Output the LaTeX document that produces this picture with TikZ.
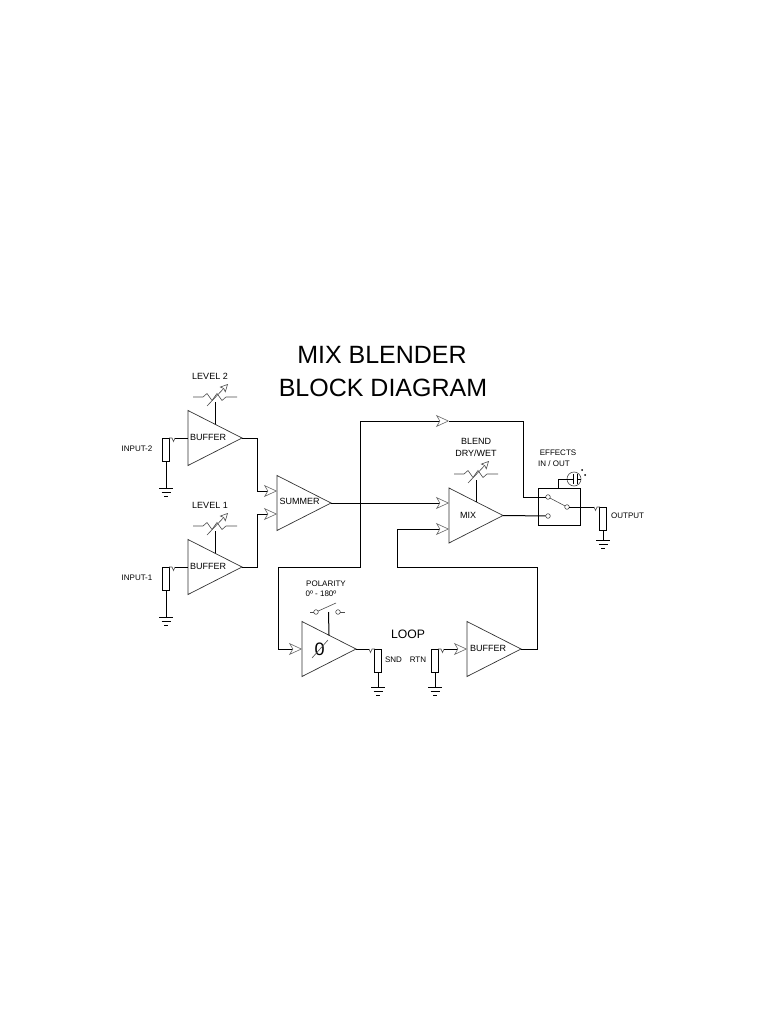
\documentclass[tikz,border=0pt]{standalone}
\usepackage{fontspec}
\setmainfont{Liberation Sans}
\usetikzlibrary{shapes.geometric,arrows.meta}
\tikzset{
    amp/.style={isosceles triangle, isosceles triangle stretches, draw=black!80, line width=0.7pt, minimum width=55pt, minimum height=54pt, inner sep=0pt, outer sep=0pt, anchor=apex},
    wire/.style={draw=black, line width=1pt},
    thin wire/.style={draw=black!70, line width=0.6pt},
    res/.style={rectangle, draw=black, line width=0.9pt, minimum width=6.5pt, minimum height=23pt, inner sep=0pt, outer sep=0pt, anchor=north},
    contact/.style={circle, draw=black!70, line width=0.6pt, minimum size=4.6pt, inner sep=0pt, outer sep=0pt},
    lab/.style={inner sep=0pt, font=\fontsize{8}{10}\selectfont, text=black},
    biglab/.style={inner sep=0pt, font=\fontsize{9}{11}\selectfont, text=black},
    intip/.style={-{Stealth[open, length=13pt, width=12pt, inset=3.5pt, color=black!60, line width=0.6pt]}},
    gndsym/.pic={
        \draw [line width=0.9pt, draw=black] (-7,0) -- (7,0);
        \draw [line width=0.8pt, draw=black] (-4.5,4) -- (4.5,4);
        \draw [line width=0.7pt, draw=black] (-2,8) -- (2,8);
    },
    potsym/.pic={
        \draw [thin wire] (-22,0) -- (-12,0) -- (-8,-3.5) -- (-3,3.5) -- (2,-3.5) -- (7,3.5) -- (11,0) -- (22,0);
        \draw [thin wire, -{Stealth[open, length=8pt, width=8pt, inset=1.5pt, line width=0.6pt]}] (-8,9) -- (13,-13);
    },
}
\begin{document}
\begin{tikzpicture}[x=1pt,y=-1pt]
    \useasboundingbox (0,0) rectangle (768,1024);
    \node [inner sep=0pt, font=\fontsize{25}{33}\selectfont, text=black] (title1) at (382,355) {MIX BLENDER};
    \node [inner sep=0pt, font=\fontsize{25}{33}\selectfont, text=black] (title2) at (383,388) {BLOCK DIAGRAM};

    \node [amp] (buf2) at (242,438) {};
    \node [amp] (buf1) at (242,567) {};
    \node [amp] (summer) at (331,503) {};
    \node [amp] (mix) at (503,515.5) {};
    \node [amp] (pol) at (356,649) {};
    \node [amp] (buf3) at (521,649) {};
    \node [biglab] (buf2txt) at (208,437) {BUFFER};
    \node [biglab] (buf1txt) at (208,566.5) {BUFFER};
    \node [biglab] (sumtxt) at (299.5,501.5) {SUMMER};
    \node [biglab] (mixtxt) at (468,515) {MIX};
    \node [biglab] (buf3txt) at (488,648.5) {BUFFER};
    \node [inner sep=0pt, font=\fontsize{18}{20}\selectfont, text=black] (zero) at (319.5,649.5) {0};
    \draw [thin wire] (312,658) -- (328,640);

    \foreach \name/\x/\y/\g/\s in {in2/166/438/488/1, in1/166/567/617/1, snd/378/649/687/-1, rtn/435/649/687/1, out/603/507/540/-1} {
        \node [res] (\name) at (\x,\y) {};
        \coordinate (\name gnd) at (\x,\g);
        \coordinate (\name tick) at ({\x+\s*9},\y);
        \draw [wire] (\name) -- (\name gnd);
        \pic at (\name gnd) {gndsym};
        \draw [thin wire] ({\x+\s*3.2},\y) -- ({\x+\s*6},\y) -- ({\x+\s*7.5},{\y+3.5}) -- (\name tick);
    }
    \node [lab] (in2txt) at (137,449) {INPUT-2};
    \node [lab] (in1txt) at (137,578) {INPUT-1};
    \node [lab] (sndtxt) at (393.5,660) {SND};
    \node [lab] (rtntxt) at (418,660) {RTN};
    \node [lab, anchor=west] (outtxt) at (611,516) {OUTPUT};
    \node [inner sep=0pt, font=\fontsize{12.2}{14}\selectfont, text=black] (looptxt) at (408,634) {LOOP};

    \pic at (215,397) {potsym};
    \pic at (215,526) {potsym};
    \pic at (476,474) {potsym};
    \coordinate (lev2) at (215,402);
    \coordinate (lev1) at (215,531);
    \coordinate (blend) at (476,480);
    \draw [wire] (lev2) -- (buf2.left side);
    \draw [wire] (lev1) -- (buf1.left side);
    \draw [wire] (blend) -- (mix.left side);
    \node [biglab] (lev2txt) at (210,376) {LEVEL 2};
    \node [biglab] (lev1txt) at (210,505) {LEVEL 1};
    \node [biglab] (blendtxt) at (476,441.5) {BLEND};
    \node [biglab] (drytxt) at (476,453.5) {DRY/WET};

    \coordinate (suma) at (277,491);
    \coordinate (sumb) at (277,514);
    \coordinate (mixa) at (449,503);
    \coordinate (mixb) at (449,529);
    \coordinate (polin) at (302,649);
    \coordinate (bufin) at (467,649);
    \coordinate (topmid) at (449,421);
    \coordinate (tee) at (360,503);

    \draw [wire] (in2tick) -- (buf2.lower side |- in2tick);
    \draw [wire] (in1tick) -- (buf1.lower side |- in1tick);
    \draw [wire, intip] (buf2.apex) -- (257,438) -- (257,491) -- (suma);
    \draw [wire, intip] (buf1.apex) -- (257,567) -- (257,514) -- (sumb);
    \draw [wire, intip] (summer.apex) -- (mixa);
    \draw [wire, intip] (tee) -- (360,421) -- (topmid);
    \draw [wire, intip] (tee) -- (360,567) -- (278,567) -- (278,649) -- (polin);
    \draw [wire] (pol.apex) -- (sndtick);
    \draw [wire, intip] (rtntick) -- (bufin);
    \draw [wire, intip] (buf3.apex) -- (537,649) -- (537,567) -- (397,567) -- (397,529) -- (mixb);

    \node [lab] (poltxt) at (326,583.5) {POLARITY};
    \node [lab] (degtxt) at (321,594) {0º - 180º};
    \node [contact] (pola) at (316,612) {};
    \node [contact] (polb) at (338,612) {};
    \coordinate (polal) at (310,612);
    \coordinate (polbr) at (345,612);
    \coordinate (polbl) at (336,603);
    \draw [thin wire] (polal) -- (pola);
    \draw [thin wire] (polb) -- (polbr);
    \draw [thin wire] (pola) -- (polbl);
    \coordinate (polsw) at (328.5,612);
    \draw [wire] (polsw) -- (pol.left side);

    \node [rectangle, draw=black, line width=0.9pt, minimum width=42pt, minimum height=37pt, inner sep=0pt, outer sep=0pt] (swbox) at (559,506.5) {};
    \node [contact] (swa) at (548,497) {};
    \node [contact] (swb) at (548,516) {};
    \node [contact] (swc) at (567,507) {};
    \draw [thin wire] (swa) -- (swc);
    \draw [wire] (topmid) -- (523,421) -- (523,497) -- (swa);
    \draw [wire] (mix.apex) -- (swb);
    \draw [wire] (swc) -- (outtick);
    \node [lab] (efftxt) at (558,453) {EFFECTS};
    \node [lab] (iotxt) at (554,463.5) {IN / OUT};

    \node [circle, draw=black!70, line width=0.6pt, minimum size=14pt, inner sep=0pt, outer sep=0pt] (led) at (574,479) {};
    \draw [wire] (558,488) -- (558,479) -- (573,479);
    \draw [wire] (577,479) -- (led.east);
    \draw [line width=0.8pt, draw=black] (573,474) -- (573,484);
    \draw [line width=0.8pt, draw=black] (577,474) -- (577,484);
    \fill [black] (582,470) circle (1);
    \fill [black] (585,475) circle (1);
\end{tikzpicture}
\end{document}
